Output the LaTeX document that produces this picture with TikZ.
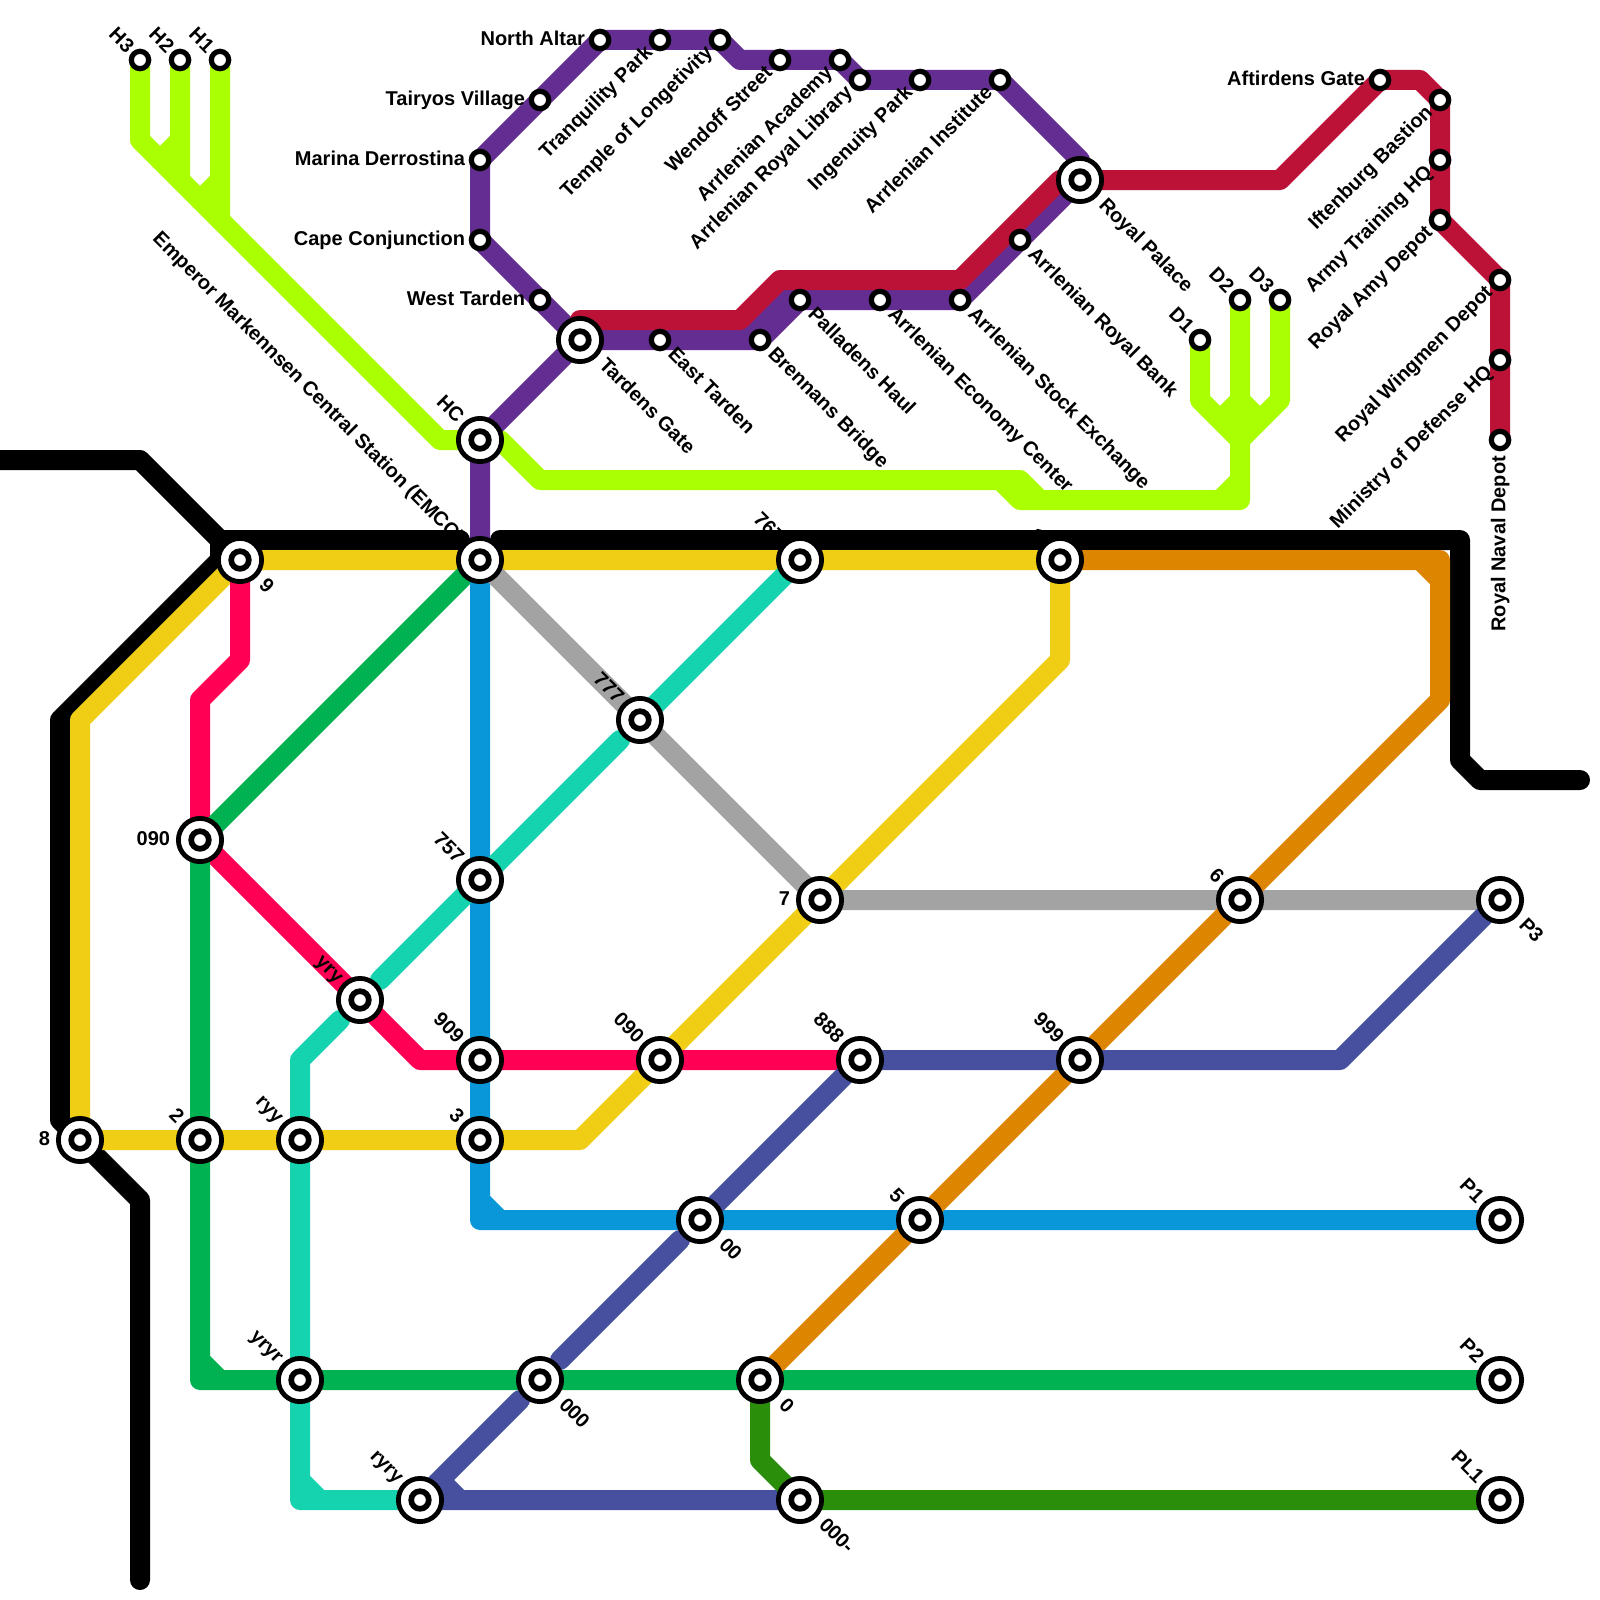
\documentclass[tikz,border=0pt]{standalone}
\usepackage{fontspec}
\setmainfont{Liberation Sans}
\usetikzlibrary{backgrounds}
\definecolor{lnYellow}{HTML}{F0CE15}
\definecolor{lnPink}{HTML}{FF0055}
\definecolor{lnGreen}{HTML}{00B251}
\definecolor{lnBlue}{HTML}{0A97D9}
\definecolor{lnTeal}{HTML}{14D3AE}
\definecolor{lnGrey}{HTML}{A3A3A3}
\definecolor{lnOrange}{HTML}{DD8500}
\definecolor{lnIndigo}{HTML}{46509F}
\definecolor{lnForest}{HTML}{2B8E0A}
\definecolor{lnLime}{HTML}{AAFF00}
\definecolor{lnPurple}{HTML}{642D91}
\definecolor{lnCrimson}{HTML}{BC1238}
\tikzset{
  mline/.style={line width=10pt,line join=round,line cap=round},
  stnbig/.style={circle,draw=black,fill=white,line width=2.4pt,minimum size=21.6pt,inner sep=0pt,outer sep=0pt,
    path picture={\draw[line width=2.85pt] (path picture bounding box.center) circle (4.4pt);}},
  stnsmall/.style={circle,draw=black,fill=white,line width=2.6pt,minimum size=8.7pt,inner sep=0pt,outer sep=0pt},
  lbl/.style={inner sep=0pt,outer sep=0pt,font=\bfseries\fontsize{10}{10}\selectfont},
  lblleft/.style={lbl,anchor=base east},
  lblup/.style={lbl,anchor=base east,rotate=-45},
  lbldown/.style={lbl,anchor=base west,rotate=-45},
  lblrise/.style={lbl,anchor=base east,rotate=45},
  lblnaval/.style={lbl,anchor=base east,rotate=90}
}
\begin{document}
\begin{tikzpicture}[x=10pt,y=-10pt]
  \useasboundingbox (0,0) rectangle (80,80);
  \foreach \n/\c/\r/\t in {emcc/24/28/Emperor Markennsen Central Station (EMCC),hc/24/22/HC,s767/40/28/767,sone/53/28/1,s777/32/36/777,s757/24/44/757,ssix/62/45/6,yry/18/50/yry,s909/24/53/909,s090b/33/53/090,s888/43/53/888,s999/54/53/999,stwo/10/57/2,ryy/15/57/ryy,sthree/24/57/3,sfive/46/61/5,pone/75/61/P1,yryr/15/69/yryr,ptwo/75/69/P2,ryry/21/75/ryry,plone/75/75/PL1}
    {\node[stnbig] (\n) at (\c,\r) {}; \node[lblup] (\n-l) at ([shift={(-1.2,-.8)}]\n.center) {\t};}
  \foreach \n/\c/\r/\t in {tardens/29/17/Tardens Gate,palace/54/9/Royal Palace,snine/12/28/9,pthree/75/45/P3,s00/35/61/00,s000/27/69/000,szero/38/69/0,s000m/40/75/000-}
    {\node[stnbig] (\n) at (\c,\r) {}; \node[lbldown] (\n-l) at ([shift={(.9,1.3)}]\n.center) {\t};}
  \foreach \n/\c/\r/\t in {s090a/10/42/090,sseven/41/45/7,seight/4/57/8}
    {\node[stnbig] (\n) at (\c,\r) {}; \node[lblleft] (\n-l) at ([shift={(-1.5,.27)}]\n.center) {\t};}
  \foreach \n/\c/\r/\t in {northaltar/30/2/North Altar,tairyos/27/5/Tairyos Village,marina/24/8/Marina Derrostina,cape/24/12/Cape Conjunction,westtarden/27/15/West Tarden,aftirdens/69/4/Aftirdens Gate}
    {\node[stnsmall] (\n) at (\c,\r) {}; \node[lblleft] (\n-l) at ([shift={(-.75,.27)}]\n.center) {\t};}
  \foreach \n/\c/\r/\t in {hthree/7/3/H3,htwo/9/3/H2,hone/11/3/H1,done/60/17/D1,dtwo/62/15/D2,dthree/64/15/D3}
    {\node[stnsmall] (\n) at (\c,\r) {}; \node[lblup] (\n-l) at ([shift={(-.7,-.3)}]\n.center) {\t};}
  \foreach \n/\c/\r/\t in {easttarden/33/17/East Tarden,brennans/38/17/Brennans Bridge,palladens/40/15/Palladens Haul,economy/44/15/Arrlenian Economy Center,exchange/48/15/Arrlenian Stock Exchange,bank/51/12/Arrlenian Royal Bank}
    {\node[stnsmall] (\n) at (\c,\r) {}; \node[lbldown] (\n-l) at ([shift={(.35,.75)}]\n.center) {\t};}
  \foreach \n/\c/\r/\t in {tranquility/33/2/Tranquility Park,temple/36/2/Temple of Longetivity,wendoff/39/3/Wendoff Street,academy/42/3/Arrlenian Academy,library/43/4/Arrlenian Royal Library,ingenuity/46/4/Ingenuity Park,institute/50/4/Arrlenian Institute,iftenburg/72/5/Iftenburg Bastion,armyhq/72/8/Army Training HQ,amydepot/72/11/Royal Amy Depot,wingmen/75/14/Royal Wingmen Depot,ministry/75/18/Ministry of Defense HQ}
    {\node[stnsmall] (\n) at (\c,\r) {}; \node[lblrise] (\n-l) at ([shift={(-.33,.68)}]\n.center) {\t};}
  \node[stnsmall] (naval) at (75,22) {}; \node[lblnaval] (naval-l) at ([shift={(.27,.8)}]naval.center) {Royal Naval Depot};
  \begin{scope}[on background layer]
    \draw[mline,black] (-1,23)--(7,23)--(11,27)--(23,27) (11,27)--(11,28)--(3,36)--(3,56)--(4,57)--(7,60)--(7,79);
    \draw[mline,black] (25,27)--(73,27)--(73,38)--(74,39)--(79,39);
    \draw[mline,lnYellow] (seight.center)--(4,36)--(snine.center)--(emcc.center)--(s767.center)--(sone.center)--(53,33)--(sseven.center)--(s090b.center)--(29,57)--(sthree.center)--(ryy.center)--(stwo.center)--(seight.center);
    \draw[mline,lnPink] (snine.center)--(12,33)--(10,35)--(s090a.center)--(yry.center)--(21,53)--(s909.center)--(s090b.center)--(s888.center);
    \draw[mline,lnGreen] (emcc.center)--(s090a.center)--(stwo.center)--(10,69)--(yryr.center)--(s000.center)--(szero.center)--(ptwo.center) (10,68)--(11,69);
    \draw[mline,lnBlue] (emcc.center)--(s757.center)--(s909.center)--(sthree.center)--(24,61)--(s00.center)--(sfive.center)--(pone.center) (24,60)--(25,61);
    \draw[mline,lnTeal] (s767.center)--(s777.center) (31,37)--(s757.center)--(19,49) (17,51)--(15,53)--(ryy.center)--(yryr.center)--(15,75)--(ryry.center) (15,74)--(16,75);
    \draw[mline,lnGrey] (emcc.center)--(s777.center)--(sseven.center)--(ssix.center)--(pthree.center);
    \draw[mline,lnOrange] (sone.center)--(72,28)--(72,35)--(ssix.center)--(s999.center)--(sfive.center)--(szero.center) (71,28)--(72,29);
    \draw[mline,lnIndigo] (ryry.center)--(26,70) (28,68)--(34,62) (s00.center)--(s888.center)--(s999.center)--(67,53)--(pthree.center) (ryry.center)--(s000m.center) (22,74)--(23,75);
    \draw[mline,lnForest] (szero.center)--(38,73)--(s000m.center)--(plone.center);
    \draw[mline,lnLime] (hthree.center)--(7,7)--(22,22)--(hc.center)--(25,22)--(27,24)--(51,24)--(52,25)--(62,25)--(dtwo.center);
    \draw[mline,lnLime] (htwo.center)--(9,9) (9,7)--(8,8) (hone.center)--(11,11) (11,9)--(10,10) (50,24)--(51,25)--(52,25) (61,25)--(62,24);
    \draw[mline,lnLime] (done.center)--(60,20)--(62,22)--(64,20)--(dthree.center) (61,21)--(62,20)--(63,21);
    \draw[mline,lnPurple] (emcc.center)--(hc.center)--(tardens.center)--(westtarden.center)--(cape.center)--(marina.center)--(tairyos.center)--(northaltar.center)--(tranquility.center)--(temple.center)--(37,3)--(wendoff.center)--(academy.center)--(library.center)--(ingenuity.center)--(institute.center)--(54,8)--(palace.center)--(bank.center)--(exchange.center)--(economy.center)--(palladens.center)--(brennans.center)--(easttarden.center)--(tardens.center) (37,17)--(39,15)--(palladens.center);
    \draw[mline,lnCrimson] (tardens.center)--(29,16)--(37,16)--(39,14)--(48,14)--(53,9)--(palace.center)--(64,9)--(aftirdens.center)--(71,4)--(iftenburg.center)--(armyhq.center)--(amydepot.center)--(wingmen.center)--(ministry.center)--(naval.center);
  \end{scope}
\end{tikzpicture}
\end{document}
